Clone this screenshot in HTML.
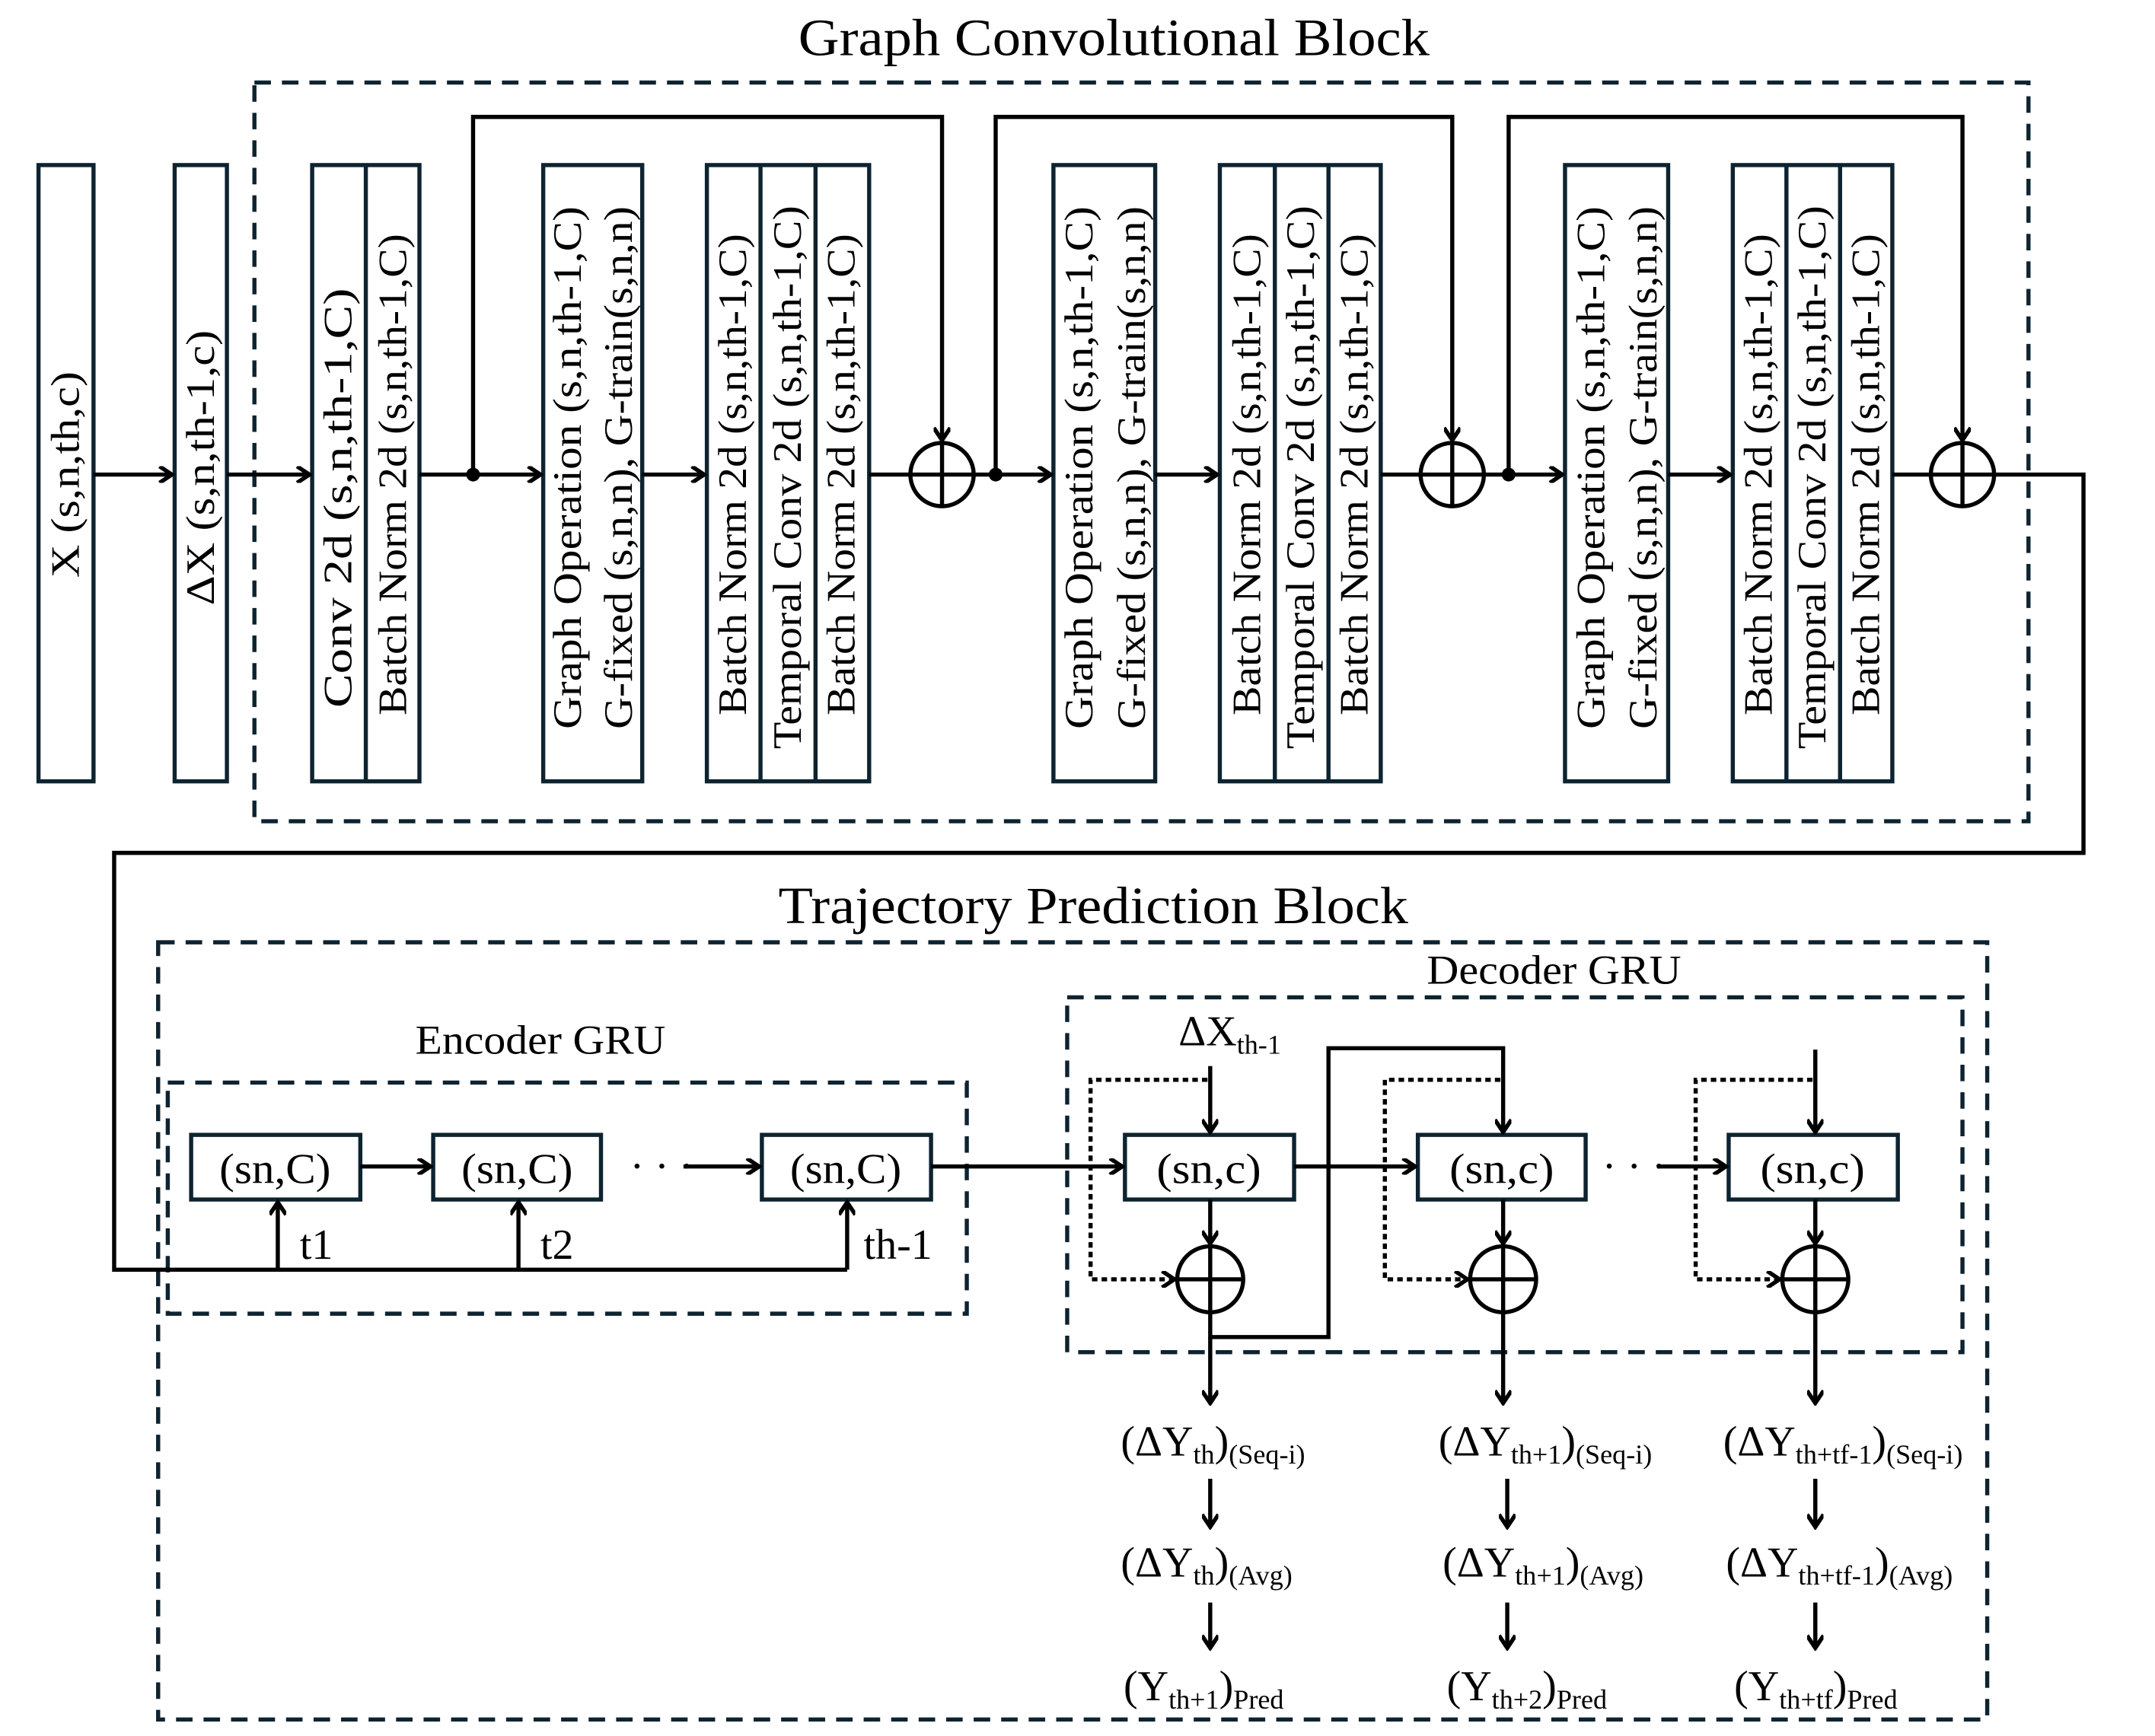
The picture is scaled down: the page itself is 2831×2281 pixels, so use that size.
<!DOCTYPE html>
<html><head><meta charset="utf-8"><style>html,body{margin:0;padding:0;background:#fff}svg{display:block}</style></head>
<body>
<svg width="2831" height="2281" viewBox="0 0 1567 1262" preserveAspectRatio="none" xmlns="http://www.w3.org/2000/svg" font-family="Liberation Serif, serif">
<defs>
<marker id="a" markerWidth="12" markerHeight="12" refX="10" refY="6" orient="auto" markerUnits="userSpaceOnUse"><path d="M1,0 L10,6 L1,12" fill="none" stroke="#000" stroke-width="3"/></marker>
</defs>
<g fill="none" stroke="#0d2330" stroke-width="3" stroke-dasharray="12,8">
<rect x="185" y="60" width="1290" height="537"/>
<rect x="115" y="685" width="1330" height="565"/>
<rect x="122" y="787" width="581" height="168"/>
<rect x="776" y="725" width="651" height="258"/>
</g>
<text x="810" y="40" font-size="38" text-anchor="middle" textLength="459" lengthAdjust="spacingAndGlyphs">Graph Convolutional Block</text>
<text x="795" y="671" font-size="38" text-anchor="middle" textLength="458" lengthAdjust="spacingAndGlyphs">Trajectory Prediction Block</text>
<text x="393" y="766" font-size="30" text-anchor="middle" textLength="182" lengthAdjust="spacingAndGlyphs">Encoder GRU</text>
<text x="1130" y="715" font-size="30" text-anchor="middle" textLength="185" lengthAdjust="spacingAndGlyphs">Decoder GRU</text>
<g fill="#fff" stroke="#0d2330" stroke-width="3">
<rect x="28" y="120" width="40" height="448"/>
<rect x="127" y="120" width="38" height="448"/>
<rect x="227" y="120" width="78" height="448"/><line x1="266" y1="120" x2="266" y2="568"/>
<rect x="395" y="120" width="72" height="448"/>
<rect x="514" y="120" width="118" height="448"/><line x1="553" y1="120" x2="553" y2="568"/><line x1="593" y1="120" x2="593" y2="568"/>
<rect x="766" y="120" width="74" height="448"/>
<rect x="887" y="120" width="117" height="448"/><line x1="927" y1="120" x2="927" y2="568"/><line x1="966" y1="120" x2="966" y2="568"/>
<rect x="1138" y="120" width="75" height="448"/>
<rect x="1260" y="120" width="116" height="448"/><line x1="1299" y1="120" x2="1299" y2="568"/><line x1="1338" y1="120" x2="1338" y2="568"/>
<rect x="139" y="825" width="123" height="47"/>
<rect x="315" y="825" width="122" height="47"/>
<rect x="554" y="825" width="123" height="47"/>
<rect x="818" y="825" width="123" height="47"/>
<rect x="1031" y="825" width="122" height="47"/>
<rect x="1257" y="825" width="123" height="47"/>
</g>
<g font-size="29" text-anchor="middle" dominant-baseline="central">
<text transform="translate(48,345) rotate(-90)" textLength="150" lengthAdjust="spacingAndGlyphs">X (s,n,th,c)</text>
<text transform="translate(146,340) rotate(-90)" textLength="200" lengthAdjust="spacingAndGlyphs">ΔX (s,n,th-1,c)</text>
<text transform="translate(246,362) rotate(-90)" textLength="305" lengthAdjust="spacingAndGlyphs">Conv 2d (s,n,th-1,C)</text>
<text transform="translate(286,345) rotate(-90)" textLength="350" lengthAdjust="spacingAndGlyphs">Batch Norm 2d (s,n,th-1,C)</text>
<text transform="translate(413,340) rotate(-90)" textLength="380" lengthAdjust="spacingAndGlyphs">Graph Operation (s,n,th-1,C)</text>
<text transform="translate(450,340) rotate(-90)" textLength="380" lengthAdjust="spacingAndGlyphs">G-fixed (s,n,n), G-train(s,n,n)</text>
<text transform="translate(533,345) rotate(-90)" textLength="350" lengthAdjust="spacingAndGlyphs">Batch Norm 2d (s,n,th-1,C)</text>
<text transform="translate(573,347) rotate(-90)" textLength="395" lengthAdjust="spacingAndGlyphs">Temporal Conv 2d (s,n,th-1,C)</text>
<text transform="translate(612,345) rotate(-90)" textLength="350" lengthAdjust="spacingAndGlyphs">Batch Norm 2d (s,n,th-1,C)</text>
<text transform="translate(785,340) rotate(-90)" textLength="380" lengthAdjust="spacingAndGlyphs">Graph Operation (s,n,th-1,C)</text>
<text transform="translate(823,340) rotate(-90)" textLength="380" lengthAdjust="spacingAndGlyphs">G-fixed (s,n,n), G-train(s,n,n)</text>
<text transform="translate(907,345) rotate(-90)" textLength="350" lengthAdjust="spacingAndGlyphs">Batch Norm 2d (s,n,th-1,C)</text>
<text transform="translate(946,347) rotate(-90)" textLength="395" lengthAdjust="spacingAndGlyphs">Temporal Conv 2d (s,n,th-1,C)</text>
<text transform="translate(985,345) rotate(-90)" textLength="350" lengthAdjust="spacingAndGlyphs">Batch Norm 2d (s,n,th-1,C)</text>
<text transform="translate(1157,340) rotate(-90)" textLength="380" lengthAdjust="spacingAndGlyphs">Graph Operation (s,n,th-1,C)</text>
<text transform="translate(1195,340) rotate(-90)" textLength="380" lengthAdjust="spacingAndGlyphs">G-fixed (s,n,n), G-train(s,n,n)</text>
<text transform="translate(1279,345) rotate(-90)" textLength="350" lengthAdjust="spacingAndGlyphs">Batch Norm 2d (s,n,th-1,C)</text>
<text transform="translate(1318,347) rotate(-90)" textLength="395" lengthAdjust="spacingAndGlyphs">Temporal Conv 2d (s,n,th-1,C)</text>
<text transform="translate(1357,345) rotate(-90)" textLength="350" lengthAdjust="spacingAndGlyphs">Batch Norm 2d (s,n,th-1,C)</text>
<g font-size="31">
<text x="200" y="850" textLength="81" lengthAdjust="spacingAndGlyphs">(sn,C)</text>
<text x="376" y="850" textLength="81" lengthAdjust="spacingAndGlyphs">(sn,C)</text>
<text x="615" y="850" textLength="81" lengthAdjust="spacingAndGlyphs">(sn,C)</text>
<text x="879" y="850" textLength="76" lengthAdjust="spacingAndGlyphs">(sn,c)</text>
<text x="1092" y="850" textLength="76" lengthAdjust="spacingAndGlyphs">(sn,c)</text>
<text x="1318" y="850" textLength="76" lengthAdjust="spacingAndGlyphs">(sn,c)</text>
</g>
</g>
<g fill="none" stroke="#000" stroke-width="3">
<line x1="68" y1="345" x2="125" y2="345" marker-end="url(#a)"/>
<line x1="165" y1="345" x2="225" y2="345" marker-end="url(#a)"/>
<line x1="305" y1="345" x2="393" y2="345" marker-end="url(#a)"/>
<line x1="467" y1="345" x2="512" y2="345" marker-end="url(#a)"/>
<line x1="632" y1="345" x2="662" y2="345"/>
<line x1="708" y1="345" x2="764" y2="345" marker-end="url(#a)"/>
<line x1="840" y1="345" x2="885" y2="345" marker-end="url(#a)"/>
<line x1="1004" y1="345" x2="1033" y2="345"/>
<line x1="1079" y1="345" x2="1136" y2="345" marker-end="url(#a)"/>
<line x1="1213" y1="345" x2="1258" y2="345" marker-end="url(#a)"/>
<line x1="1376" y1="345" x2="1404" y2="345"/>
<polyline points="344,345 344,85 685,85 685,320" marker-end="url(#a)"/>
<polyline points="724,345 724,85 1056,85 1056,320" marker-end="url(#a)"/>
<polyline points="1097,345 1097,85 1427,85 1427,320" marker-end="url(#a)"/>
<circle cx="685" cy="345" r="23"/><line x1="662" y1="345" x2="708" y2="345"/><line x1="685" y1="322" x2="685" y2="368"/>
<circle cx="1056" cy="345" r="23"/><line x1="1033" y1="345" x2="1079" y2="345"/><line x1="1056" y1="322" x2="1056" y2="368"/>
<circle cx="1427" cy="345" r="23"/><line x1="1404" y1="345" x2="1450" y2="345"/><line x1="1427" y1="322" x2="1427" y2="368"/>
<polyline points="1450,345 1515,345 1515,620 83,620 83,923 616,923"/>
<line x1="202" y1="923" x2="202" y2="874" marker-end="url(#a)"/>
<line x1="377" y1="923" x2="377" y2="874" marker-end="url(#a)"/>
<line x1="616" y1="923" x2="616" y2="874" marker-end="url(#a)"/>
<line x1="262" y1="848" x2="313" y2="848" marker-end="url(#a)"/>
<line x1="497" y1="848" x2="552" y2="848" marker-end="url(#a)"/>
<line x1="677" y1="848" x2="816" y2="848" marker-end="url(#a)"/>
<line x1="941" y1="848" x2="1029" y2="848" marker-end="url(#a)"/>
<line x1="1205" y1="848" x2="1255" y2="848" marker-end="url(#a)"/>
<line x1="880" y1="775" x2="880" y2="823" marker-end="url(#a)"/>
<line x1="1320" y1="763" x2="1320" y2="823" marker-end="url(#a)"/>
<polyline points="880,954 880,972 966,972 966,762 1093,762 1093,823" marker-end="url(#a)"/>
<line x1="880" y1="872" x2="880" y2="904" marker-end="url(#a)"/>
<line x1="1093" y1="872" x2="1093" y2="904" marker-end="url(#a)"/>
<line x1="1320" y1="872" x2="1320" y2="904" marker-end="url(#a)"/>
<circle cx="880" cy="930" r="24"/><line x1="856" y1="930" x2="904" y2="930"/><line x1="880" y1="906" x2="880" y2="954"/>
<circle cx="1093" cy="930" r="24"/><line x1="1069" y1="930" x2="1117" y2="930"/><line x1="1093" y1="906" x2="1093" y2="954"/>
<circle cx="1320" cy="930" r="24"/><line x1="1296" y1="930" x2="1344" y2="930"/><line x1="1320" y1="906" x2="1320" y2="954"/>
<line x1="880" y1="972" x2="880" y2="1020" marker-end="url(#a)"/>
<line x1="1093" y1="954" x2="1093" y2="1020" marker-end="url(#a)"/>
<line x1="1320" y1="954" x2="1320" y2="1020" marker-end="url(#a)"/>
<line x1="880" y1="1075" x2="880" y2="1110" marker-end="url(#a)"/>
<line x1="1096" y1="1075" x2="1096" y2="1110" marker-end="url(#a)"/>
<line x1="1320" y1="1075" x2="1320" y2="1110" marker-end="url(#a)"/>
<line x1="880" y1="1165" x2="880" y2="1198" marker-end="url(#a)"/>
<line x1="1096" y1="1165" x2="1096" y2="1198" marker-end="url(#a)"/>
<line x1="1320" y1="1165" x2="1320" y2="1198" marker-end="url(#a)"/>
<g stroke-dasharray="4,3">
<polyline points="878,785 793,785 793,930 854,930" marker-end="url(#a)"/>
<polyline points="1091,785 1007,785 1007,930 1067,930" marker-end="url(#a)"/>
<polyline points="1318,785 1233,785 1233,930 1294,930" marker-end="url(#a)"/>
</g>
</g>
<g fill="#000"><circle cx="344" cy="345" r="5"/><circle cx="724" cy="345" r="5"/><circle cx="1097" cy="345" r="5"/></g>
<g font-size="31">
<text x="218" y="915">t1</text><text x="393" y="915">t2</text><text x="628" y="915">th-1</text>
<text x="458" y="858">· · ·</text><text x="1165" y="858">· · ·</text>
<text x="857" y="760">ΔX<tspan font-size="20" dy="6">th-1</tspan></text>
<text x="815" y="1058">(ΔY<tspan font-size="20" dy="6">th</tspan><tspan dy="-6">)</tspan><tspan font-size="20" dy="6">(Seq-i)</tspan></text>
<text x="1046" y="1058">(ΔY<tspan font-size="20" dy="6">th+1</tspan><tspan dy="-6">)</tspan><tspan font-size="20" dy="6">(Seq-i)</tspan></text>
<text x="1253" y="1058">(ΔY<tspan font-size="20" dy="6">th+tf-1</tspan><tspan dy="-6">)</tspan><tspan font-size="20" dy="6">(Seq-i)</tspan></text>
<text x="815" y="1146">(ΔY<tspan font-size="20" dy="6">th</tspan><tspan dy="-6">)</tspan><tspan font-size="20" dy="6">(Avg)</tspan></text>
<text x="1049" y="1146">(ΔY<tspan font-size="20" dy="6">th+1</tspan><tspan dy="-6">)</tspan><tspan font-size="20" dy="6">(Avg)</tspan></text>
<text x="1255" y="1146">(ΔY<tspan font-size="20" dy="6">th+tf-1</tspan><tspan dy="-6">)</tspan><tspan font-size="20" dy="6">(Avg)</tspan></text>
<text x="817" y="1236">(Y<tspan font-size="20" dy="6">th+1</tspan><tspan dy="-6">)</tspan><tspan font-size="20" dy="6">Pred</tspan></text>
<text x="1052" y="1236">(Y<tspan font-size="20" dy="6">th+2</tspan><tspan dy="-6">)</tspan><tspan font-size="20" dy="6">Pred</tspan></text>
<text x="1261" y="1236">(Y<tspan font-size="20" dy="6">th+tf</tspan><tspan dy="-6">)</tspan><tspan font-size="20" dy="6">Pred</tspan></text>
</g>
</svg>
</body></html>
